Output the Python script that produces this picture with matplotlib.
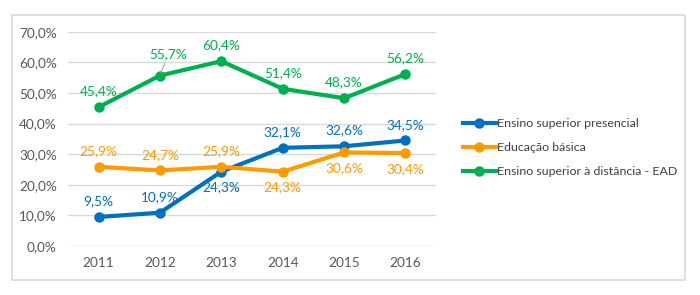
import matplotlib.pyplot as plt
from matplotlib.patches import Rectangle

plt.rcParams['font.family'] = ['Lato', 'DejaVu Sans']

anos = ['2011', '2012', '2013', '2014', '2015', '2016']
presencial = [9.5, 10.9, 24.3, 32.1, 32.6, 34.5]
basica = [25.9, 24.7, 25.9, 24.3, 30.6, 30.4]
ead = [45.4, 55.7, 60.4, 51.4, 48.3, 56.2]

nomes = ['Ensino superior presencial', 'Educação básica',
         'Ensino superior à distância - EAD']
cores = ['#0070C0', '#FF9A00', '#00B050']

# label position per point: +1 above, -1 below
pos_presencial = [1, 1, -1, 1, 1, 1]
pos_basica = [1, 1, 1, -1, -1, -1]
pos_ead = [1, 1, 1, 1, 1, 1]

fig = plt.figure(figsize=(7, 2.95), dpi=100)
fig.patches.append(Rectangle((12 / 700, 1 - 280 / 295), 673 / 700, 265 / 295,
                             transform=fig.transFigure, fill=False,
                             edgecolor='#D9D9D9', linewidth=1.2))
ax = fig.add_axes([0.097, 0.166, 0.526, 0.726])

x = range(len(anos))
series = [(presencial, pos_presencial), (basica, pos_basica), (ead, pos_ead)]
for (vals, posi), nome, cor in zip(series, nomes, cores):
    ax.plot(x, vals, color=cor, linewidth=3, marker='o', markersize=6.5,
            label=nome, zorder=3)
    for i, (v, p) in enumerate(zip(vals, posi)):
        txt = f'{v:.1f}%'.replace('.', ',')
        if vals is ead and i == 1:
            ax.annotate(txt, (i, v), xytext=(6, 11), textcoords='offset points',
                        ha='center', va='bottom', color=cor, fontsize=9.8,
                        arrowprops=dict(arrowstyle='-', color='#A6A6A6', lw=0.8,
                                        shrinkA=0, shrinkB=2))
        else:
            ax.annotate(txt, (i, v), xytext=(0, 7 * p), textcoords='offset points',
                        ha='center', va='bottom' if p > 0 else 'top',
                        color=cor, fontsize=9.8)

ax.set_xlim(-0.5, 5.5)
ax.set_ylim(0, 70)
ax.set_xticks(list(x))
ax.set_xticklabels(anos)
ax.set_yticks(range(0, 71, 10))
ax.set_yticklabels([f'{v:.1f}%'.replace('.', ',') for v in range(0, 71, 10)])
ax.tick_params(length=0, labelsize=9.8, colors='#595959', pad=8)
ax.grid(axis='y', color='#D9D9D9', linewidth=1)
ax.set_axisbelow(True)
for s in ax.spines.values():
    s.set_visible(False)

fig.legend(loc='center left', bbox_to_anchor=(0.645, 0.5), frameon=False,
           fontsize=8.9, handlelength=2.7, labelcolor='#404040',
           handletextpad=0.1, labelspacing=1.05)

fig.savefig('out.png', dpi=100)
